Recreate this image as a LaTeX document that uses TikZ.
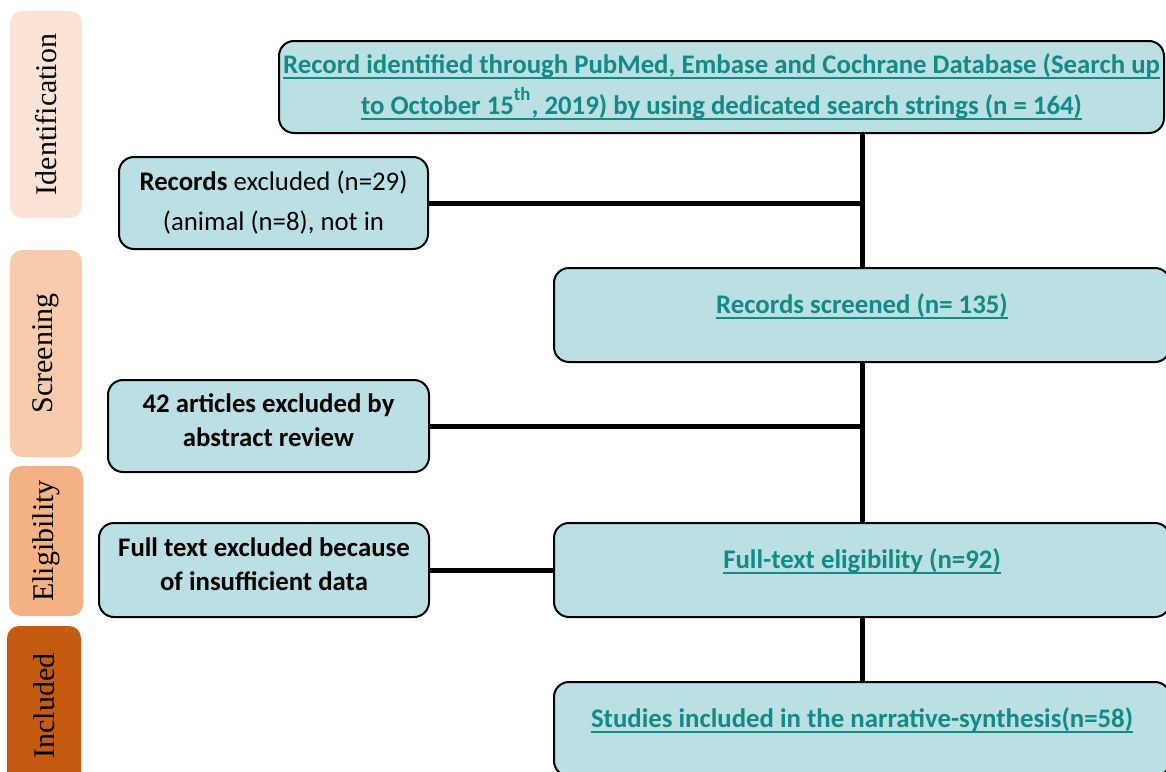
\documentclass[tikz,border=0pt]{standalone}
\usepackage{fontspec}
\setmainfont{Carlito}
\newfontfamily\tabfont{Liberation Serif}
\usepackage{tikz}

\definecolor{boxfill}{HTML}{BAE0E3}
\definecolor{boxtext}{HTML}{138A86}
\definecolor{idcol}{HTML}{FBE4D5}
\definecolor{scrcol}{HTML}{F8CBAD}
\definecolor{elicol}{HTML}{F4B183}
\definecolor{inccol}{HTML}{C55A11}

\newcommand{\linkline}[1]{\setbox0\hbox{#1}\leavevmode\rlap{\raisebox{-2.6pt}{\rule{\wd0}{0.9pt}}}\box0}

\tikzset{
  flowbox/.style={draw=black,line width=1pt,fill=boxfill,rounded corners=7.5pt,
    align=center,inner sep=0pt,font=\fontsize{13.4}{20}\selectfont},
  sidebox/.style={flowbox,text depth=6pt,font=\fontsize{13.4}{17}\selectfont\bfseries},
  mainbox/.style={flowbox,text=boxtext,font=\fontsize{13.4}{20.5}\selectfont\bfseries},
  onebox/.style={mainbox,text depth=11pt},
  tab/.style={rounded corners=6pt,rotate=90,inner sep=0pt,
    font=\tabfont\fontsize{15}{18}\selectfont},
  link/.style={line width=2.5pt}
}

\begin{document}
\begin{tikzpicture}[x=0.5pt,y=-0.5pt]

\useasboundingbox (0,0) rectangle (1166,771);
\clip (0,0) rectangle (1166,771);

% stage tabs
\node [tab,fill=idcol,minimum width=103.5pt,minimum height=36pt] (tabid) at (46,114.5) {Identification};
\node [tab,fill=scrcol,minimum width=103.5pt,minimum height=36pt] (tabscr) at (46,353.5) {Screening};
\node [tab,fill=elicol,minimum width=75pt,minimum height=37pt] (tabeli) at (46,541) {Eligibility};
\node [tab,fill=inccol,minimum width=80pt,minimum height=37pt] (tabinc) at (44,706) {Included};

% boxes
\node [mainbox,minimum width=442.5pt,minimum height=46pt] (found) at (721.5,87)
  {\linkline{Record identified through PubMed, Embase and Cochrane Database (Search up}\\
   \linkline{to October 15\raisebox{2pt}{\textsuperscript{th}}, 2019) by using dedicated search strings (n = 164)}};

\node [flowbox,minimum width=154.5pt,minimum height=46pt] (exclrec) at (273.5,203)
  {\textbf{Records} excluded (n=29)\\ (animal (n=8), not in};

\node [onebox,minimum width=308pt,minimum height=47pt] (screened) at (862,315)
  {\linkline{Records screened (n= 135)}};

\node [sidebox,minimum width=160.5pt,minimum height=46pt] (exclabs) at (268.5,426)
  {42 articles excluded by\\ abstract review};

\node [sidebox,minimum width=165pt,minimum height=47pt] (exclfull) at (264,570)
  {Full text excluded because\\ of insufficient data};

\node [onebox,minimum width=308pt,minimum height=47pt] (elig) at (862,570)
  {\linkline{Full-text eligibility (n=92)}};

\node [onebox,minimum width=308pt,minimum height=47pt] (synth) at (862,729)
  {\linkline{Studies included in the narrative-synthesis(n=58)}};

% links
\draw[link] (found.south -| screened.north) -- (screened.north);
\draw[link] (exclrec.east) -- (exclrec.east -| screened.north);
\draw[link] (screened.south) -- (elig.north);
\draw[link] (exclabs.east) -- (exclabs.east -| screened.south);
\draw[link] (exclfull.east) -- (elig.west);
\draw[link] (elig.south) -- (synth.north);

\end{tikzpicture}
\end{document}
